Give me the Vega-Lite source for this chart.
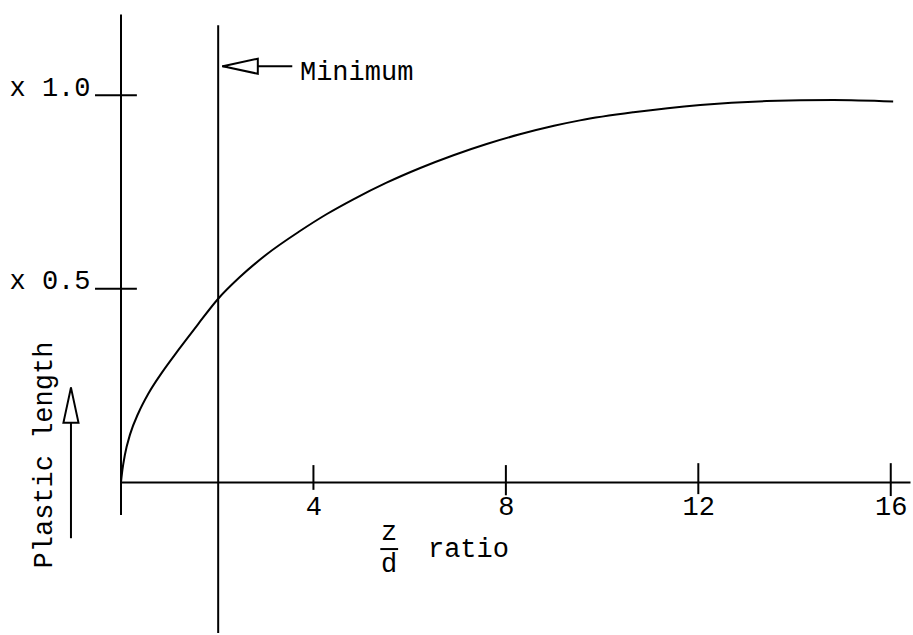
{
  "$schema": "https://vega.github.io/schema/vega-lite/v6.json",
  "width": 789,
  "height": 619,
  "autosize": {"type": "none"},
  "padding": {"left": 121, "top": 14, "right": 3, "bottom": 2},
  "background": "white",
  "config": {
    "view": {"stroke": null},
    "font": "Liberation Mono",
    "axis": {"labelFont": "Liberation Mono", "labelFontSize": 27, "labelColor": "black", "grid": false}
  },
  "datasets": {
    "curve": [
      {"x": 0, "y": 0},
      {"x": 0.03, "y": 0.032},
      {"x": 0.08, "y": 0.070},
      {"x": 0.19, "y": 0.124},
      {"x": 0.36, "y": 0.178},
      {"x": 0.57, "y": 0.229},
      {"x": 0.85, "y": 0.283},
      {"x": 1.19, "y": 0.341},
      {"x": 1.60, "y": 0.408},
      {"x": 2.02, "y": 0.474},
      {"x": 2.47, "y": 0.530},
      {"x": 3.03, "y": 0.589},
      {"x": 3.72, "y": 0.649},
      {"x": 4.28, "y": 0.693},
      {"x": 4.83, "y": 0.731},
      {"x": 5.52, "y": 0.774},
      {"x": 6.22, "y": 0.812},
      {"x": 6.91, "y": 0.845},
      {"x": 7.60, "y": 0.874},
      {"x": 8.29, "y": 0.899},
      {"x": 9.00, "y": 0.921},
      {"x": 9.54, "y": 0.935},
      {"x": 10.65, "y": 0.956},
      {"x": 12.04, "y": 0.975},
      {"x": 13.42, "y": 0.985},
      {"x": 14.81, "y": 0.988},
      {"x": 16.05, "y": 0.984}
    ],
    "vrules": [
      {"name": "y axis", "x": 0, "y": -0.085, "y2": 1.209},
      {"name": "minimum", "x": 2.02, "y": -0.39, "y2": 1.181},
      {"name": "tick 4", "x": 4, "y": -0.02, "y2": 0.044},
      {"name": "tick 8", "x": 8, "y": -0.034, "y2": 0.044},
      {"name": "tick 12", "x": 12, "y": -0.031, "y2": 0.049},
      {"name": "tick 16", "x": 16, "y": -0.036, "y2": 0.049},
      {"name": "y arrow", "x": -1.04, "y": -0.145, "y2": 0.245}
    ],
    "hrules": [
      {"name": "tick 1.0", "x": -0.54, "x2": 0.33, "y": 1.0},
      {"name": "tick 0.5", "x": -0.54, "x2": 0.33, "y": 0.5},
      {"name": "min arrow", "x": 2.10, "x2": 3.56, "y": 1.075},
      {"name": "fraction bar", "x": 5.39, "x2": 5.76, "y": -0.173}
    ],
    "headH": [{"x": 2.48, "y": 1.075}],
    "headV": [{"x": -1.04, "y": 0.199}],
    "textLeft": [
      {"x": 3.72, "y": 1.039, "t": "Minimum"},
      {"x": 6.38, "y": -0.194, "t": "ratio"}
    ],
    "textCenter": [
      {"x": 5.57, "y": -0.150, "t": "z"},
      {"x": 5.57, "y": -0.233, "t": "d"}
    ],
    "textRot": [
      {"x": -1.44, "y": 0.07, "t": "Plastic length"}
    ]
  },
  "layer": [
    {
      "data": {"name": "curve"},
      "mark": {"type": "line", "interpolate": "monotone", "color": "black", "strokeWidth": 2},
      "encoding": {
        "x": {"field": "x", "type": "quantitative",
              "scale": {"domain": [0, 16.4], "nice": false, "zero": false},
              "axis": {"title": null, "values": [4, 8, 12, 16], "offset": -151, "ticks": false,
                       "domain": true, "domainColor": "black", "domainWidth": 2, "labelPadding": 11, "labelFlush": false}},
        "y": {"field": "y", "type": "quantitative",
              "scale": {"domain": [-0.39, 1.21], "nice": false, "zero": false},
              "axis": {"title": null, "values": [0.5, 1.0], "ticks": false, "domain": false,
                       "labelPadding": 31, "labelBaseline": "alphabetic",
                       "labelExpr": "'x ' + format(datum.value, '.1f')"}}
      }
    },
    {
      "data": {"name": "vrules"},
      "mark": {"type": "rule", "color": "black", "strokeWidth": 2},
      "encoding": {
        "x": {"field": "x", "type": "quantitative"},
        "y": {"field": "y", "type": "quantitative"},
        "y2": {"field": "y2"}
      }
    },
    {
      "data": {"name": "hrules"},
      "mark": {"type": "rule", "color": "black", "strokeWidth": 2},
      "encoding": {
        "x": {"field": "x", "type": "quantitative"},
        "x2": {"field": "x2"},
        "y": {"field": "y", "type": "quantitative"}
      }
    },
    {
      "data": {"name": "headH"},
      "mark": {"type": "point", "shape": "M -1 0 L 1 -0.43 L 1 0.43 Z", "size": 1225, "filled": true, "fill": "white", "stroke": "black", "strokeWidth": 2, "opacity": 1, "angle": 0},
      "encoding": {
        "x": {"field": "x", "type": "quantitative"},
        "y": {"field": "y", "type": "quantitative"}
      }
    },
    {
      "data": {"name": "headV"},
      "mark": {"type": "point", "shape": "M -1 0 L 1 -0.43 L 1 0.43 Z", "size": 1225, "filled": true, "fill": "white", "stroke": "black", "strokeWidth": 2, "opacity": 1, "angle": 90},
      "encoding": {
        "x": {"field": "x", "type": "quantitative"},
        "y": {"field": "y", "type": "quantitative"}
      }
    },
    {
      "data": {"name": "textLeft"},
      "mark": {"type": "text", "align": "left", "baseline": "alphabetic", "fontSize": 27, "color": "black", "font": "Liberation Mono"},
      "encoding": {
        "x": {"field": "x", "type": "quantitative"},
        "y": {"field": "y", "type": "quantitative"},
        "text": {"field": "t"}
      }
    },
    {
      "data": {"name": "textCenter"},
      "mark": {"type": "text", "align": "center", "baseline": "alphabetic", "fontSize": 27, "color": "black", "font": "Liberation Mono"},
      "encoding": {
        "x": {"field": "x", "type": "quantitative"},
        "y": {"field": "y", "type": "quantitative"},
        "text": {"field": "t"}
      }
    },
    {
      "data": {"name": "textRot"},
      "mark": {"type": "text", "align": "center", "baseline": "alphabetic", "fontSize": 27, "color": "black", "font": "Liberation Mono", "angle": 270},
      "encoding": {
        "x": {"field": "x", "type": "quantitative"},
        "y": {"field": "y", "type": "quantitative"},
        "text": {"field": "t"}
      }
    }
  ]
}
